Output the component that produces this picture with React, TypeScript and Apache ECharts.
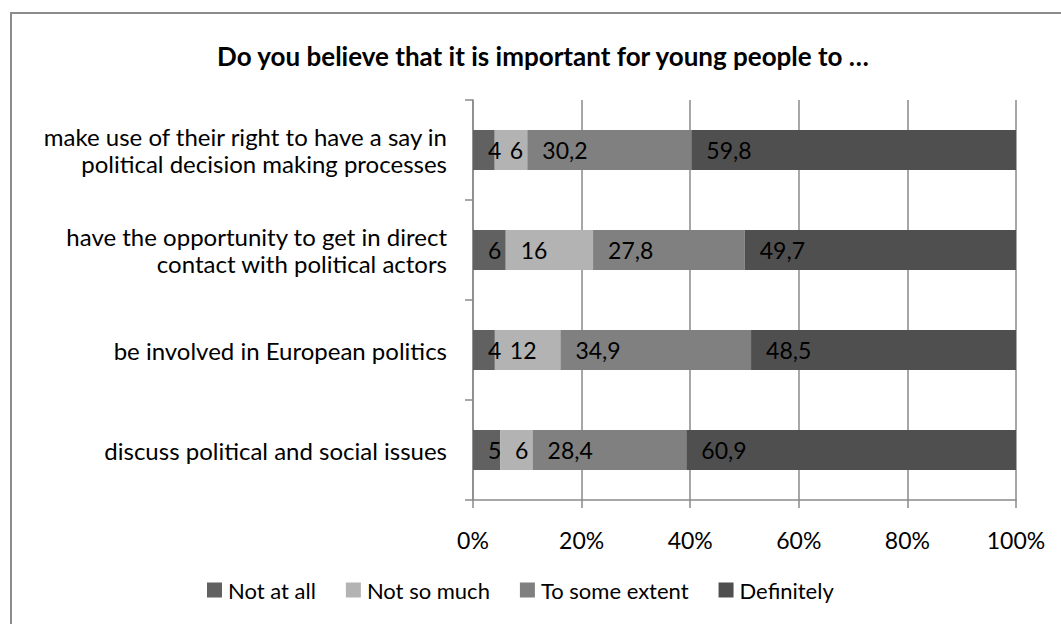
import React, { useEffect, useRef } from "react";
import * as echarts from "echarts";

const titleText = "Do you believe that it is important for young people to …";
const categories = [
  "make use of their right to have a say in\npolitical decision making processes",
  "have the opportunity to get in direct\ncontact with political actors",
  "be involved in European politics",
  "discuss political and social issues",
];
const seriesNames = ["Not at all", "Not so much", "To some extent", "Definitely"];
const notAtAll = [4, 6, 4, 5];
const notSoMuch = [6, 16, 12, 6];
const toSomeExtent = [30.2, 27.8, 34.9, 28.4];
const definitely = [59.8, 49.7, 48.5, 60.9];
const xTicks = [0, 20, 40, 60, 80, 100];

const colors = ["#616161", "#b3b3b3", "#808080", "#4f4f4f"];
const FONT = "Lato, 'Open Sans', sans-serif";
const GRID = "#8a8a8a";

export default function App() {
  const ref = useRef<HTMLDivElement>(null);
  useEffect(() => {
    if (!ref.current) return;
    const chart = echarts.init(ref.current, null, { renderer: "svg" });
    const raw = [notAtAll, notSoMuch, toSomeExtent, definitely];
    const sums = categories.map((_, i) => raw.reduce((s, arr) => s + arr[i], 0));
    const fmt = (v: number) => String(v).replace(".", ",");
    chart.setOption({
      animation: false,
      backgroundColor: "#ffffff",
      textStyle: { fontFamily: FONT },
      graphic: [
        {
          type: "rect",
          shape: { x: 11, y: 13, width: 1200, height: 800 },
          style: { fill: "none", stroke: "#8c8c8c", lineWidth: 2 },
          silent: true,
        },
        {
          type: "text",
          x: 543,
          y: 56,
          style: {
            text: titleText,
            fontFamily: FONT,
            fontSize: 26,
            fontWeight: "bold",
            fill: "#000",
            align: "center",
            verticalAlign: "middle",
          },
        },
      ],
      legend: {
        data: seriesNames,
        left: 202,
        top: 574,
        icon: "rect",
        itemWidth: 15,
        itemHeight: 15,
        itemGap: 30,
        textStyle: { fontFamily: FONT, fontSize: 22, color: "#000", padding: [0, 0, 0, 1] },
      },
      grid: { left: 473, right: 45, top: 100, bottom: 124, containLabel: false },
      xAxis: {
        type: "value",
        min: xTicks[0],
        max: xTicks[xTicks.length - 1],
        interval: xTicks[1] - xTicks[0],
        axisLine: { show: true, lineStyle: { color: GRID, width: 1.5 } },
        axisTick: { show: true, length: 8, lineStyle: { color: GRID, width: 1.5 } },
        splitLine: { show: true, lineStyle: { color: GRID, width: 1.5 } },
        axisLabel: {
          formatter: "{value}%",
          fontFamily: FONT,
          fontSize: 23,
          color: "#000",
          margin: 28,
        },
      },
      yAxis: {
        type: "category",
        data: categories,
        inverse: true,
        axisLine: { show: true, lineStyle: { color: GRID, width: 1.5 } },
        axisTick: { show: true, length: 8, lineStyle: { color: GRID, width: 1.5 } },
        axisLabel: {
          fontFamily: FONT,
          fontSize: 24,
          lineHeight: 27,
          color: "#000",
          margin: 26,
          align: "right",
        },
      },
      series: seriesNames.map((name, si) => ({
        name,
        type: "bar",
        stack: "total",
        barWidth: 40,
        itemStyle: { color: colors[si] },
        data: raw[si].map((v, i) => (v / sums[i]) * 100),
        label: {
          show: true,
          position: "insideLeft",
          distance: 15,
          fontFamily: FONT,
          fontSize: 23,
          color: "#000",
          formatter: (p: any) => fmt(raw[si][p.dataIndex]),
        },
      })),
    });
    return () => chart.dispose();
  }, []);
  return (
    <div
      ref={ref}
      style={{ position: "fixed", left: 0, top: 0, width: 1061, height: 624 }}
    />
  );
}
